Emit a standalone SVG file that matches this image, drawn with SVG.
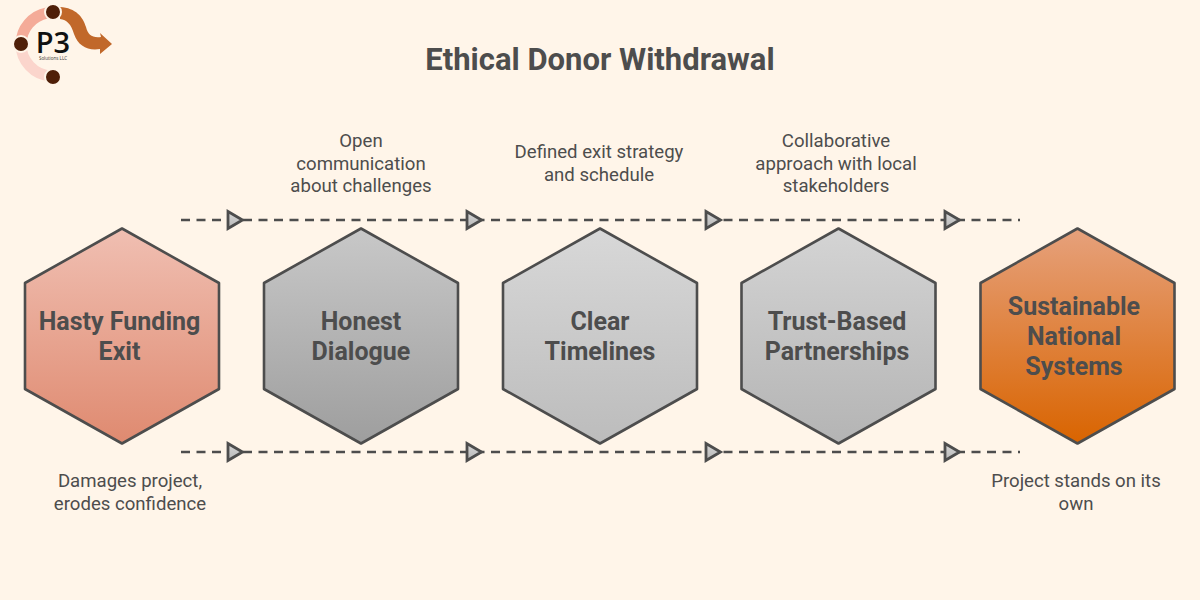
<svg xmlns="http://www.w3.org/2000/svg" width="1200" height="600" viewBox="0 0 1200 600">
<style>
text{font-family:Roboto,"Liberation Sans",sans-serif;text-anchor:middle;fill:#4d4d4d}
.t{font-size:31px;font-weight:700}
.h{font-size:25px;font-weight:700}
.c{font-size:18.600px;font-weight:400}
.hex{stroke:#4d4d4d;stroke-width:2.600;stroke-linejoin:round}
.dash{fill:none;stroke:#4d4d4d;stroke-width:2.600;stroke-dasharray:9 6.500}
.tri{fill:url(#gt);stroke:#4d4d4d;stroke-width:2.800;stroke-linejoin:miter}
.dot{fill:#4f1f08;stroke:#fff5e9;stroke-width:2}
</style>
<defs>
<linearGradient id="g1" x1="0" y1="0" x2="0" y2="1"><stop offset="0" stop-color="#f0bfb2"/><stop offset="1" stop-color="#df8a70"/></linearGradient>
<linearGradient id="g2" x1="0" y1="0" x2="0" y2="1"><stop offset="0" stop-color="#c8c8c8"/><stop offset="1" stop-color="#9e9e9e"/></linearGradient>
<linearGradient id="g3" x1="0" y1="0" x2="0" y2="1"><stop offset="0" stop-color="#d8d8d8"/><stop offset="1" stop-color="#bcbcbc"/></linearGradient>
<linearGradient id="g4" x1="0" y1="0" x2="0" y2="1"><stop offset="0" stop-color="#d4d4d4"/><stop offset="1" stop-color="#b4b4b4"/></linearGradient>
<linearGradient id="g5" x1="0" y1="0" x2="0" y2="1"><stop offset="0" stop-color="#e6a17c"/><stop offset="1" stop-color="#d96400"/></linearGradient>
<linearGradient id="gt" x1="0" y1="0" x2="0" y2="1"><stop offset="0" stop-color="#d6d6d6"/><stop offset="1" stop-color="#b8b8b8"/></linearGradient>
<polygon id="hx" class="hex" points="0,-107.500 97,-53 97,53 0,107.500 -97,53 -97,-53"/>
</defs>
<rect width="1200" height="600" fill="#fff5e9"/>
<g id="logo">
<path d="M47,13 A32,32 0 0 0 21,44" fill="none" stroke="#f4ab98" stroke-width="11"/>
<path d="M21,44 A32,32 0 0 0 51,76" fill="none" stroke="#fbd5cc" stroke-width="11"/>
<path d="M60,7 C76,8 83,17 86,27 C88,35 92,38 101,37 L100,33 L112,44 L100,54 L100,49 C88,51 78,46 74,34 C71,24 67,20 60,19 Z" fill="#c1682a"/>
<circle class="dot" cx="53" cy="12" r="8"/>
<circle class="dot" cx="21" cy="44" r="8"/>
<circle class="dot" cx="53" cy="77" r="8"/>
<text x="53" y="53" style="font-family:'Open Sans','Liberation Sans',sans-serif;font-size:29px;font-weight:600;fill:#111">P3</text>
<text x="53" y="60" style="font-family:'Open Sans','Liberation Sans',sans-serif;font-size:4.500px;fill:#333">Solutions LLC</text>
</g>
<text id="title" class="t" x="600" y="69.500">Ethical Donor Withdrawal</text>
<g id="connectors">
<path class="dash" d="M181,220H1020"/>
<path class="dash" d="M181,452H1020"/>
<g id="arrowheads">
<polygon class="tri" points="228,211.500 242.500,220 228,228.500"/>
<polygon class="tri" points="467,211.500 481.500,220 467,228.500"/>
<polygon class="tri" points="706,211.500 720.500,220 706,228.500"/>
<polygon class="tri" points="945,211.500 959.500,220 945,228.500"/>
<polygon class="tri" points="228,443.500 242.500,452 228,460.500"/>
<polygon class="tri" points="467,443.500 481.500,452 467,460.500"/>
<polygon class="tri" points="706,443.500 720.500,452 706,460.500"/>
<polygon class="tri" points="945,443.500 959.500,452 945,460.500"/>
</g>
</g>
<g id="n1"><use href="#hx" x="122" y="336" fill="url(#g1)"/><text class="h" x="119.500" y="330">Hasty Funding</text><text class="h" x="119.500" y="360">Exit</text></g>
<g id="n2"><use href="#hx" x="361" y="336" fill="url(#g2)"/><text class="h" x="361" y="330">Honest</text><text class="h" x="361" y="360">Dialogue</text></g>
<g id="n3"><use href="#hx" x="600" y="336" fill="url(#g3)"/><text class="h" x="600" y="330">Clear</text><text class="h" x="600" y="360">Timelines</text></g>
<g id="n4"><use href="#hx" x="838.500" y="336" fill="url(#g4)"/><text class="h" x="837" y="330">Trust-Based</text><text class="h" x="837" y="360">Partnerships</text></g>
<g id="n5"><use href="#hx" x="1077.500" y="336" fill="url(#g5)"/><text class="h" x="1074" y="315">Sustainable</text><text class="h" x="1074" y="345">National</text><text class="h" x="1074" y="375">Systems</text></g>
<g id="labels">
<text class="c" x="361" y="147">Open</text><text class="c" x="361" y="170">communication</text><text class="c" x="361" y="192">about challenges</text>
<text class="c" x="599" y="158">Defined exit strategy</text><text class="c" x="599" y="181">and schedule</text>
<text class="c" x="836" y="147">Collaborative</text><text class="c" x="836" y="170">approach with local</text><text class="c" x="836" y="192">stakeholders</text>
<text class="c" x="130" y="487">Damages project,</text><text class="c" x="130" y="510">erodes confidence</text>
<text class="c" x="1076" y="487">Project stands on its</text><text class="c" x="1076" y="510">own</text>
</g>
</svg>
